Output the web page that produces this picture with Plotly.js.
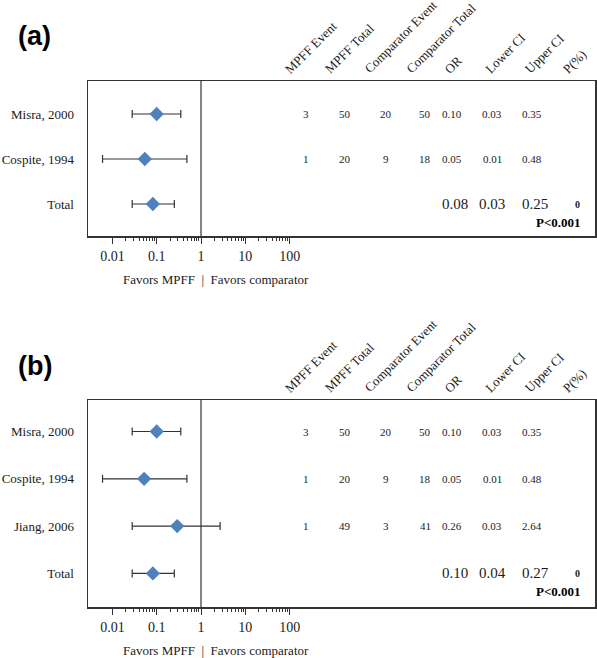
<!DOCTYPE html>
<html>
<head>
<meta charset="utf-8">
<script src="https://cdn.plot.ly/plotly-3.0.1.min.js"></script>
<style>html,body{margin:0;padding:0;background:#fff;}#chart{width:597px;height:658px;}</style>
</head>
<body>
<div id="chart"></div>
<script>
// ---------- data ----------
const headers = ["MPFF Event", "MPFF Total", "Comparator Event", "Comparator Total", "OR", "Lower CI", "Upper CI", "P(%)"];
const xTickVals = [0.01, 0.1, 1, 10, 100];
const xTickText = ["0.01", "0.1", "1", "10", "100"];

// Panel (a)
const studiesA = ["Misra, 2000", "Cospite, 1994", "Total"];
const orA = [0.10, 0.054, 0.082];
const lowA = [0.028, 0.006, 0.028];
const upA = [0.35, 0.48, 0.25];
const mpffEventA = ["3", "1", ""];
const mpffTotalA = ["50", "20", ""];
const compEventA = ["20", "9", ""];
const compTotalA = ["50", "18", ""];
const orTextA = ["0.10", "0.05", "0.08"];
const lowTextA = ["0.03", "0.01", "0.03"];
const upTextA = ["0.35", "0.48", "0.25"];
const pTextA = ["", "", "0"];
const pValueA = "P<0.001";

// Panel (b)
const studiesB = ["Misra, 2000", "Cospite, 1994", "Jiang, 2006", "Total"];
const orB = [0.10, 0.052, 0.29, 0.082];
const lowB = [0.028, 0.006, 0.028, 0.028];
const upB = [0.35, 0.48, 2.7, 0.25];
const mpffEventB = ["3", "1", "1", ""];
const mpffTotalB = ["50", "20", "49", ""];
const compEventB = ["20", "9", "3", ""];
const compTotalB = ["50", "18", "41", ""];
const orTextB = ["0.10", "0.05", "0.26", "0.10"];
const lowTextB = ["0.03", "0.01", "0.03", "0.04"];
const upTextB = ["0.35", "0.48", "2.64", "0.27"];
const pTextB = ["", "", "", "0"];
const pValueB = "P<0.001";

// ---------- layout helpers ----------
const W = 597, H = 658;
const px = x => x / W;
const py = y => 1 - y / H;
const SERIF = "Liberation Serif";
const INK = "#1a1a1a";
const LINE = "#333333";
const BLUE = "#4f81bd";

const minorVals = [];
[0.01, 0.1, 1, 10].forEach(d => { for (let k = 2; k <= 9; k++) minorVals.push(+(d * k).toPrecision(3)); });

function xAxis(anchor) {
  return {
    type: "log", range: [-2.55, 8.89], domain: [px(88), px(595)], anchor: anchor,
    tickmode: "array", tickvals: xTickVals, ticktext: xTickText,
    ticks: "outside", ticklen: 6, tickwidth: 1, tickcolor: LINE,
    minor: { tickmode: "array", tickvals: minorVals, ticks: "outside", ticklen: 3, tickwidth: 1, tickcolor: LINE, showgrid: false },
    showgrid: false, zeroline: false, showline: true, mirror: true, linecolor: LINE, linewidth: 1.5,
    tickfont: { family: SERIF, size: 14, color: INK }, ticklabelstandoff: 1, fixedrange: true
  };
}
function yAxis(anchor, cats, range, top, bottom) {
  return {
    type: "category", categoryorder: "array", categoryarray: cats, range: range,
    domain: [py(bottom), py(top)], anchor: anchor,
    showgrid: false, zeroline: false, showline: true, mirror: true, linecolor: LINE, linewidth: 1.5,
    ticks: "", tickfont: { family: SERIF, size: 13, color: INK }, ticklabelstandoff: 10, fixedrange: true
  };
}

function forestTrace(cats, or, lo, up, xa, ya) {
  return {
    type: "scatter", mode: "markers", x: or, y: cats, xaxis: xa, yaxis: ya,
    marker: { symbol: "diamond", size: 11, color: BLUE },
    error_x: {
      type: "data", symmetric: false,
      array: up.map((u, i) => u - or[i]), arrayminus: lo.map((l, i) => or[i] - l),
      color: LINE, thickness: 1.2, width: 4
    },
    hoverinfo: "skip", showlegend: false
  };
}

const annotations = [];
const shapes = [];

function panel(label, labelY, headerY, cats, yref, cols, pTexts, pValue, favorsY) {
  annotations.push({ text: "<b>" + label + "</b>", xref: "paper", yref: "paper", x: px(16), y: py(labelY), xanchor: "left", yanchor: "middle",
    showarrow: false, font: { family: "Liberation Sans", size: 27, color: "#000" } });
  const headerX = [279, 319, 359, 400, 439, 479, 519, 557];
  headers.forEach((h, i) => annotations.push({ text: h, xref: "paper", yref: "paper", x: px(headerX[i]), y: py(headerY),
    xanchor: "left", yanchor: "bottom", textangle: -45, showarrow: false, font: { family: SERIF, size: 13, color: INK } }));
  const colX = [306, 345, 386, 425, 452, 492, 532];
  const totalX = [306, 345, 386, 425, 455, 492, 535];
  cols.forEach((col, c) => col.forEach((t, r) => {
    if (!t) return;
    const isTotal = cats[r] === "Total";
    annotations.push({ text: t, xref: "paper", yref: yref, x: px(isTotal ? totalX[c] : colX[c]), y: cats[r],
      xanchor: "center", yanchor: "middle", showarrow: false,
      font: { family: SERIF, size: isTotal ? 15 : 11, color: INK } });
  }));
  pTexts.forEach((t, r) => { if (!t) return;
    annotations.push({ text: "<b>" + t + "</b>", xref: "paper", yref: yref, x: px(577), y: cats[r], xanchor: "center", yanchor: "middle",
      showarrow: false, font: { family: SERIF, size: 10, color: INK } });
  });
  annotations.push({ text: "<b>" + pValue + "</b>", xref: "paper", yref: yref, x: px(558), y: "Total", yshift: -18,
    xanchor: "center", yanchor: "middle", showarrow: false, font: { family: SERIF, size: 13, color: "#000" } });
  annotations.push({ text: "Favors MPFF  |  Favors comparator", xref: "paper", yref: "paper", x: px(216), y: py(favorsY),
    xanchor: "center", yanchor: "middle", showarrow: false, font: { family: SERIF, size: 13, color: INK } });
}

panel("(a)", 36, 79, studiesA, "y",
  [mpffEventA, mpffTotalA, compEventA, compTotalA, orTextA, lowTextA, upTextA], pTextA, pValueA, 280);
panel("(b)", 366, 398, studiesB, "y2",
  [mpffEventB, mpffTotalB, compEventB, compTotalB, orTextB, lowTextB, upTextB], pTextB, pValueB, 650);

shapes.push({ type: "line", xref: "x", yref: "y domain", x0: 1, x1: 1, y0: 0, y1: 1, line: { color: LINE, width: 1.2 } });
shapes.push({ type: "line", xref: "x2", yref: "y2 domain", x0: 1, x1: 1, y0: 0, y1: 1, line: { color: LINE, width: 1.2 } });

const data = [
  forestTrace(studiesA, orA, lowA, upA, "x", "y"),
  forestTrace(studiesB, orB, lowB, upB, "x2", "y2")
];

const layout = {
  width: W, height: H, margin: { l: 0, r: 0, t: 0, b: 0 },
  paper_bgcolor: "#fff", plot_bgcolor: "#fff", showlegend: false,
  xaxis: xAxis("y"),
  yaxis: yAxis("x", studiesA, [2.711, -0.733], 81, 236),
  xaxis2: xAxis("y2"),
  yaxis2: yAxis("x2", studiesB, [3.71, -0.666], 400, 607),
  annotations: annotations, shapes: shapes
};

Plotly.newPlot("chart", data, layout, { staticPlot: true, displayModeBar: false });
</script>
</body>
</html>
